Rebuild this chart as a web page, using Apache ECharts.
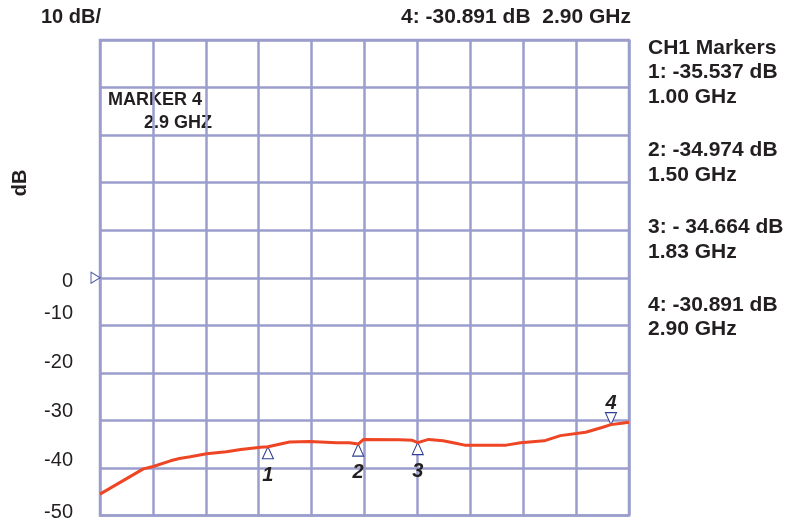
<!DOCTYPE html>
<html>
<head>
<meta charset="utf-8">
<script src="https://cdn.jsdelivr.net/npm/echarts@6/dist/echarts.min.js"></script>
<style>
  html, body { margin: 0; padding: 0; background: #ffffff; }
  #chart { width: 803px; height: 522px; }
</style>
</head>
<body>
<div id="chart"></div>
<script>
// CH1 transmission sweep, 10 dB per division.
const TRACE_FREQ_GHZ = [0.07, 0.31, 0.365, 0.46, 0.51, 0.57, 0.66, 0.77, 0.85, 0.96, 1.00,
  1.12, 1.23, 1.38, 1.45, 1.50, 1.53, 1.73, 1.80, 1.83, 1.89, 1.97, 2.04, 2.09, 2.32,
  2.40, 2.53, 2.62, 2.76, 2.85, 2.90, 2.96, 3.00];
const TRACE_DB = [-45.5, -40.2, -39.7, -38.5, -38.0, -37.65, -37.0, -36.6, -36.1, -35.65, -35.537,
  -34.55, -34.45, -34.7, -34.7, -34.974, -34.0, -34.05, -34.2, -34.664, -34.0, -34.3, -34.8, -35.2, -35.2,
  -34.7, -34.3, -33.2, -32.5, -31.5, -30.891, -30.6, -30.4];

const MARKER_IDS = ['1', '2', '3', '4'];
const MARKER_FREQ_GHZ = [1.00, 1.50, 1.83, 2.90];
const MARKER_DB = [-35.537, -34.974, -34.664, -30.891];
const MARKER_READOUT = [
  ['1: -35.537 dB', '1.00 GHz'],
  ['2: -34.974 dB', '1.50 GHz'],
  ['3: - 34.664 dB', '1.83 GHz'],
  ['4: -30.891 dB', '2.90 GHz']
];
const ACTIVE_READOUT = '4: -30.891 dB  2.90 GHz';
const ACTIVE_MARKER_TEXT = ['MARKER 4', '2.9 GHZ'];

const Y_TICKS = [0, -10, -20, -30, -40, -50];
const REF_LEVEL_DB = 0;
const FREQ_START_GHZ = 0.07;
const FREQ_STOP_GHZ = 3.0;

// ---- presentation ----
const FONT = '"Liberation Sans", Arial, Helvetica, sans-serif';
const INK = '#231f20';
const GRID_COLOR = '#9b9ecc';
const MARKER_BLUE = '#2f3f93';
const TRACE_RED = '#ee4524';

// small vertical nudges (px) for the dB scale labels
const LABEL_NUDGE = { '0': 4, '-10': -12, '-20': -10, '-30': -9, '-40': -7, '-50': -3.5 };
const labelRich = {};
Y_TICKS.forEach((v, i) => {
  const s = LABEL_NUDGE[String(v)] || 0;
  labelRich['t' + i] = {
    fontSize: 20, fontFamily: FONT, color: INK,
    padding: s > 0 ? [2 * s, 0, 0, 0] : [0, 0, -2 * s, 0]
  };
});

const markerBelow = [true, true, true, false];

function text(x, y, str, size, extra) {
  return Object.assign({
    type: 'text', x: x, y: y, silent: true,
    style: {
      text: str, fontSize: size, fontWeight: 'bold', fontFamily: FONT,
      fill: INK, align: 'left', verticalAlign: 'middle'
    }
  }, extra || {});
}

const readoutY = [[72, 97], [150, 175], [227, 252], [305, 329]];
const graphics = [
  text(41, 17, '10 dB/', 20),
  text(401, 17, ACTIVE_READOUT, 21),
  text(648, 48, 'CH1 Markers', 21),
  text(108, 100, ACTIVE_MARKER_TEXT[0], 18),
  text(144, 123, ACTIVE_MARKER_TEXT[1], 18),
  {
    type: 'text', x: 20, y: 183, rotation: Math.PI / 2, silent: true,
    style: { text: 'dB', fontSize: 20, fontWeight: 'bold', fontFamily: FONT, fill: INK,
      align: 'center', verticalAlign: 'middle' }
  }
];
MARKER_READOUT.forEach((lines, i) => {
  graphics.push(text(648, readoutY[i][0], lines[0], 21));
  graphics.push(text(648, readoutY[i][1], lines[1], 21));
});

const chart = echarts.init(document.getElementById('chart'), null, { renderer: 'canvas' });

chart.setOption({
  animation: false,
  backgroundColor: '#ffffff',
  grid: {
    left: 100, right: 174, top: 40, bottom: 3,
    show: true, borderColor: GRID_COLOR, borderWidth: 2.5, backgroundColor: 'transparent'
  },
  xAxis: [
    {
      // ten graticule divisions
      type: 'value', min: 0, max: 10, interval: 1,
      axisLine: { show: false }, axisTick: { show: false }, axisLabel: { show: false },
      splitLine: { show: true, lineStyle: { color: GRID_COLOR, width: 2.5 } }
    },
    {
      // sweep frequency, GHz
      type: 'value', min: FREQ_START_GHZ, max: FREQ_STOP_GHZ, show: false,
      splitLine: { show: false }
    }
  ],
  yAxis: {
    type: 'value', min: -50, max: 50, interval: 10,
    axisLine: { show: false }, axisTick: { show: false },
    splitLine: { show: true, lineStyle: { color: GRID_COLOR, width: 2.5 } },
    axisLabel: {
      margin: 27,
      formatter: function (v) {
        const i = Y_TICKS.indexOf(v);
        return i < 0 ? '' : '{t' + i + '|' + String(v) + '}';
      },
      rich: labelRich
    }
  },
  graphic: graphics,
  series: [
    {
      name: 'CH1',
      type: 'line', xAxisIndex: 1,
      data: TRACE_FREQ_GHZ.map((f, i) => [f, TRACE_DB[i]]),
      showSymbol: false, symbol: 'none', clip: false,
      lineStyle: { color: TRACE_RED, width: 3 },
      z: 4
    },
    {
      name: 'Markers',
      type: 'scatter', xAxisIndex: 1, clip: false,
      symbol: 'triangle', symbolSize: [11, 12],
      itemStyle: { color: '#ffffff', borderColor: MARKER_BLUE, borderWidth: 1.1, opacity: 1 },
      data: MARKER_FREQ_GHZ.map((f, i) => ({
        value: [f, MARKER_DB[i]],
        symbolRotate: markerBelow[i] ? 0 : 180,
        symbolOffset: markerBelow[i] ? [0, 6] : [0, -6],
        label: { position: markerBelow[i] ? 'bottom' : 'top', distance: markerBelow[i] ? 6 : -1 }
      })),
      label: {
        show: true,
        formatter: p => MARKER_IDS[p.dataIndex],
        fontSize: 20, fontWeight: 'bold', fontStyle: 'italic', fontFamily: FONT, color: INK
      },
      z: 3
    },
    {
      name: 'Reference',
      type: 'scatter', xAxisIndex: 1, clip: false,
      symbol: 'triangle', symbolSize: [11, 9], symbolRotate: -90, symbolOffset: [-4.5, 0],
      itemStyle: { color: '#ffffff', borderColor: MARKER_BLUE, borderWidth: 1.1 },
      data: [[FREQ_START_GHZ, REF_LEVEL_DB]],
      z: 3
    }
  ]
});
</script>
</body>
</html>
